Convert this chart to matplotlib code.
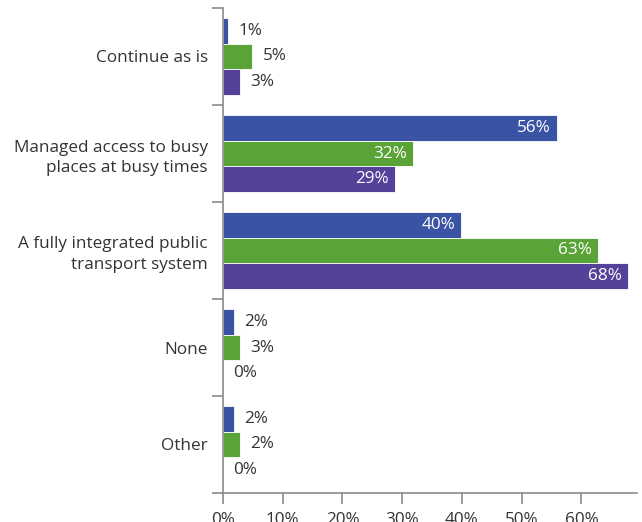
import matplotlib
matplotlib.use("Agg")
import matplotlib.pyplot as plt
import numpy as np

categories = ["Continue as is",
              "Managed access to busy\nplaces at busy times",
              "A fully integrated public\ntransport system",
              "None",
              "Other"]
blue_vals = [0.9, 55.9, 39.9, 1.8, 1.8]
green_vals = [4.9, 31.8, 62.8, 2.9, 2.9]
purple_vals = [2.9, 28.8, 67.8, 0.0, 0.0]
blue_labels = ["1%", "56%", "40%", "2%", "2%"]
green_labels = ["5%", "32%", "63%", "3%", "2%"]
purple_labels = ["3%", "29%", "68%", "0%", "0%"]
xticks = [0, 10, 20, 30, 40, 50, 60]

colors = ["#3a53a4", "#5aa336", "#55409a"]
text_col = "#333333"
axis_col = "#8a8a8a"
fs = 12.3

plt.rcParams['font.family'] = ['Open Sans', 'DejaVu Sans']

fig = plt.figure(figsize=(6.42, 5.22), dpi=100)
ax = fig.add_axes([223/642, 29/522, 414/642, 485/522])

h = 0.268
centers = np.arange(len(categories)) + 0.5
series = [(blue_vals, blue_labels), (green_vals, green_labels), (purple_vals, purple_labels)]
for k, (vals, labs) in enumerate(series):
    ys = centers + (k - 1) * h
    ax.barh(ys, vals, height=h, color=colors[k], edgecolor="white", linewidth=0.6)
    for y, v, lab in zip(ys, vals, labs):
        if v > 20:
            ax.text(v - 1.0, y, lab, ha="right", va="center", color="white", fontsize=fs)
        else:
            ax.text(v + 1.7, y, lab, ha="left", va="center", color=text_col, fontsize=fs)

ax.set_xlim(0, 69.3)
ax.set_ylim(len(categories), 0)

ax.set_xticks(xticks)
ax.set_xticklabels([f"{t}%" for t in xticks])
ax.set_yticks(centers)
ax.set_yticklabels(categories, ha="right", linespacing=1.4)
ax.set_yticks(np.arange(len(categories) + 1), minor=True)

ax.tick_params(axis="y", which="major", length=0, pad=11, labelsize=fs, labelcolor=text_col)
ax.tick_params(axis="y", which="minor", length=8, width=1.2, color=axis_col)
ax.tick_params(axis="x", length=8, width=1.2, color=axis_col, pad=6, labelsize=fs, labelcolor=text_col)

for side in ["top", "right"]:
    ax.spines[side].set_visible(False)
for side in ["left", "bottom"]:
    ax.spines[side].set_color(axis_col)
    ax.spines[side].set_linewidth(1.2)

fig.savefig("out.png", dpi=100)
